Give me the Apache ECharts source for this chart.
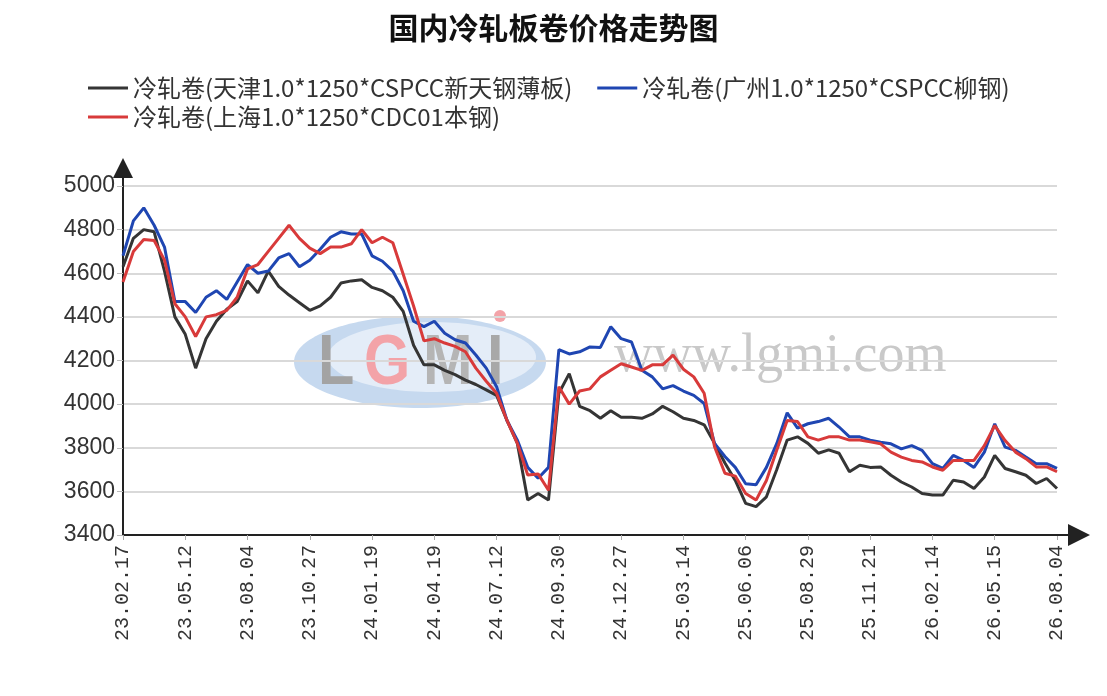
<!DOCTYPE html>
<html>
<head>
<meta charset="utf-8">
<title>国内冷轧板卷价格走势图</title>
<script src="https://cdn.jsdelivr.net/npm/echarts@6.0.0/dist/echarts.min.js"></script>
<style>
html, body { margin: 0; padding: 0; background: #fff; }
#main { width: 1107px; height: 696px; }
</style>
</head>
<body>
<div id="main"></div>
<script>
var tickLabels = ['23.02.17', '23.05.12', '23.08.04', '23.10.27', '24.01.19', '24.04.19', '24.07.12', '24.09.30',
    '24.12.27', '25.03.14', '25.06.06', '25.08.29', '25.11.21', '26.02.14', '26.05.15', '26.08.04'];
var seriesNames = ['冷轧卷(天津1.0*1250*CSPCC新天钢薄板)', '冷轧卷(广州1.0*1250*CSPCC柳钢)', '冷轧卷(上海1.0*1250*CDC01本钢)'];

// 天津
var tianjin = [4630, 4760, 4800, 4790, 4610, 4400, 4320, 4165, 4300, 4380, 4435, 4470,
    4565, 4510, 4610, 4540, 4500, 4465, 4430, 4450, 4490, 4555, 4565, 4570,
    4535, 4520, 4490, 4425, 4270, 4180, 4180, 4155, 4135, 4110, 4090, 4065,
    4040, 3925, 3820, 3560, 3590, 3560, 4050, 4140, 3990, 3970, 3935, 3970,
    3940, 3940, 3935, 3955, 3990, 3965, 3935, 3925, 3905, 3820, 3730, 3650,
    3545, 3530, 3575, 3700, 3835, 3850, 3820, 3775, 3790, 3775, 3690, 3720,
    3710, 3712, 3674, 3643, 3620, 3590, 3583, 3583, 3651, 3643, 3613, 3666,
    3765, 3705, 3690, 3674, 3636, 3659, 3613];
// 广州
var guangzhou = [4680, 4840, 4900, 4820, 4720, 4470, 4470, 4420, 4490, 4520, 4480, 4560,
    4640, 4600, 4610, 4670, 4690, 4630, 4660, 4710, 4765, 4790, 4780, 4780,
    4680, 4655, 4610, 4520, 4380, 4355, 4380, 4325, 4295, 4280, 4225, 4165,
    4080, 3925, 3835, 3710, 3660, 3710, 4250, 4230, 4240, 4262, 4260, 4355,
    4300, 4285, 4155, 4125, 4070, 4085, 4060, 4040, 4003, 3820, 3760, 3710,
    3635, 3630, 3710, 3820, 3960, 3890, 3910, 3920, 3935, 3895, 3850, 3850,
    3835, 3825, 3818, 3795, 3810, 3788, 3727, 3705, 3765, 3742, 3710, 3780,
    3910, 3803, 3788, 3757, 3727, 3727, 3705];
// 上海
var shanghai = [4560, 4700, 4755, 4750, 4660, 4460, 4400, 4310, 4400, 4410, 4430, 4490,
    4620, 4640, 4700, 4760, 4820, 4760, 4715, 4690, 4720, 4720, 4735, 4800,
    4740, 4765, 4740, 4595, 4450, 4290, 4300, 4280, 4265, 4240, 4165, 4105,
    4050, 3925, 3820, 3675, 3680, 3605, 4080, 4000, 4060, 4070, 4125, 4155,
    4185, 4170, 4155, 4180, 4180, 4225, 4160, 4125, 4050, 3805, 3683, 3670,
    3590, 3560, 3650, 3790, 3925, 3920, 3850, 3835, 3850, 3850, 3835, 3835,
    3827, 3818, 3780, 3757, 3742, 3735, 3712, 3697, 3742, 3742, 3742, 3810,
    3902, 3833, 3780, 3750, 3712, 3712, 3690];

var colors = ['#353535', '#1f46b2', '#d83a3a'];
var pointsPerTick = 6;

// category axis: one slot per data point, date text only where the reference shows it
var categories = [];
for (var i = 0; i < tianjin.length; i++) {
    categories.push(i % pointsPerTick === 0 ? tickLabels[i / pointsPerTick] : '');
}

var chart = echarts.init(document.getElementById('main'));

var option = {
    backgroundColor: '#fff',
    animation: false,
    title: {
        text: '国内冷轧板卷价格走势图',
        left: 'center',
        top: 8,
        textStyle: {
            fontSize: 30,
            fontWeight: 'bold',
            color: '#111',
            fontFamily: 'Noto Sans CJK SC'
        }
    },
    legend: {
        left: 83,
        top: 71,
        width: 980,
        itemWidth: 40,
        itemHeight: 3,
        itemGap: 5,
        icon: 'rect',
        textStyle: {
            fontSize: 24,
            color: '#333',
            lineHeight: 24,
            padding: [0, 20, 0, 0],
            fontFamily: 'Noto Sans CJK SC'
        },
        data: seriesNames
    },
    graphic: {
        elements: [
            { type: 'ellipse', z: -10, shape: { cx: 420, cy: 362, rx: 126, ry: 46 }, style: { fill: '#c6d9ef' } },
            { type: 'ellipse', z: -9, shape: { cx: 432, cy: 357, rx: 104, ry: 35 }, style: { fill: '#e4edf8' } },
            { type: 'text', z: -8, x: 318, y: 330, scaleX: 0.85, style: { text: 'L', font: 'bold 70px "Liberation Sans"', fill: '#a3a3a3' } },
            { type: 'text', z: -8, x: 364, y: 330, scaleX: 0.85, style: { text: 'G', font: 'bold 70px "Liberation Sans"', fill: '#f3a3a8' } },
            { type: 'text', z: -8, x: 423, y: 330, scaleX: 0.85, style: { text: 'M', font: 'bold 70px "Liberation Sans"', fill: '#b5b5b5' } },
            { type: 'text', z: -8, x: 487, y: 330, scaleX: 0.85, style: { text: 'I', font: 'bold 70px "Liberation Sans"', fill: '#a8a8a8' } },
            { type: 'circle', z: -8, shape: { cx: 500, cy: 316, r: 6 }, style: { fill: '#f3a3a8' } },
            { type: 'text', z: -8, x: 614, y: 330, style: { text: 'www.lgmi.com', font: '54px "Liberation Serif"', fill: '#c9c9c9' } }
        ]
    },
    grid: {
        left: 123,
        right: 50,
        top: 186,
        bottom: 161,
        containLabel: false,
        outerBoundsMode: 'none'
    },
    xAxis: {
        type: 'category',
        boundaryGap: false,
        data: categories,
        axisLine: {
            show: true,
            lineStyle: { color: '#222', width: 2 },
            symbol: ['none', 'path://M11,0L22,22L12,22L12,33L10,33L10,22L0,22Z'],
            symbolSize: [22, 33],
            symbolOffset: [0, 16.5]
        },
        axisTick: { show: true, interval: pointsPerTick - 1, length: 5, lineStyle: { color: '#aaa' } },
        axisLabel: {
            interval: pointsPerTick - 1,
            rotate: 90,
            margin: 10,
            fontSize: 20,
            color: '#333',
            fontFamily: 'Liberation Mono'
        },
        splitLine: { show: false }
    },
    yAxis: {
        type: 'value',
        min: 3400,
        max: 5000,
        interval: 200,
        axisLine: {
            show: true,
            lineStyle: { color: '#222', width: 2 },
            symbol: ['none', 'path://M10,0L20,20L11,20L11,28L9,28L9,20L0,20Z'],
            symbolSize: [20, 28],
            symbolOffset: [0, 14]
        },
        axisTick: { show: true, length: 6, lineStyle: { color: '#bbb' } },
        axisLabel: {
            margin: 8,
            fontSize: 23,
            color: '#333',
            fontFamily: 'Liberation Sans',
            formatter: function (v) { return String(v); }
        },
        splitLine: { show: true, lineStyle: { color: '#d9d9d9', width: 2 } }
    },
    series: [
        { name: seriesNames[0], type: 'line', data: tianjin, showSymbol: false, symbol: 'none',
          lineStyle: { width: 3, color: colors[0] }, itemStyle: { color: colors[0] } },
        { name: seriesNames[1], type: 'line', data: guangzhou, showSymbol: false, symbol: 'none',
          lineStyle: { width: 3, color: colors[1] }, itemStyle: { color: colors[1] } },
        { name: seriesNames[2], type: 'line', data: shanghai, showSymbol: false, symbol: 'none',
          lineStyle: { width: 3, color: colors[2] }, itemStyle: { color: colors[2] } }
    ]
};

chart.setOption(option);
</script>
</body>
</html>
